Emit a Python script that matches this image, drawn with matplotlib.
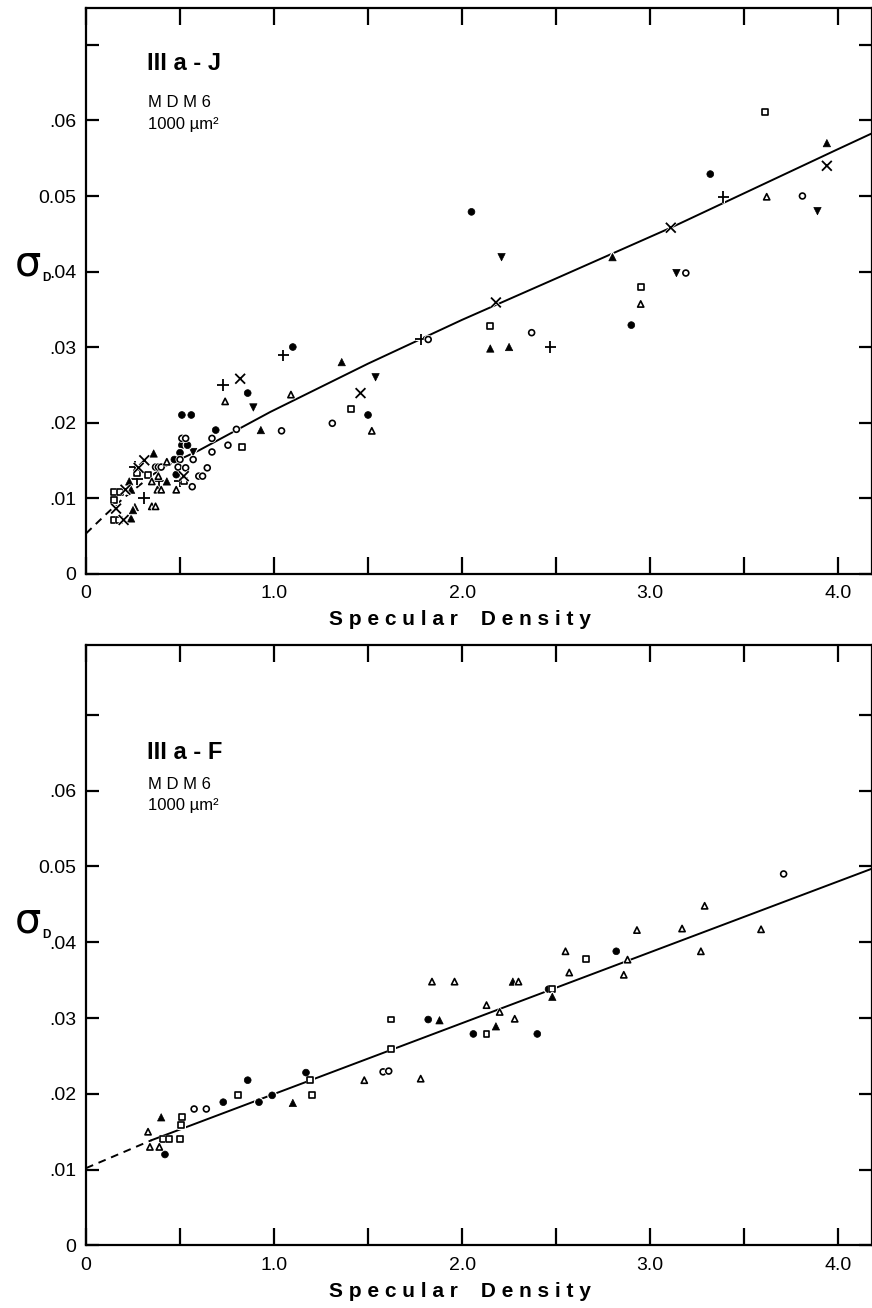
import matplotlib
matplotlib.use("Agg")
import matplotlib.pyplot as plt
import matplotlib.patheffects as pe

plt.rcParams["font.family"] = ["Liberation Sans", "DejaVu Sans"]

# ---- IIIa-J (top panel) ----
j_fc_x = [3.32, 2.90, 2.05, 1.10, 1.50, 0.86, 0.51, 0.56, 0.69, 0.51, 0.54, 0.50, 0.47, 0.48]
j_fc_y = [0.0529, 0.0329, 0.0479, 0.0300, 0.0210, 0.0239, 0.0210, 0.0210, 0.0190, 0.0170, 0.0170, 0.0160, 0.0151, 0.0131]
j_oc_x = [3.81, 3.19, 2.37, 1.82, 1.31, 1.04, 0.80, 0.67, 0.51, 0.53, 0.755, 0.67, 0.50, 0.57, 0.37, 0.385,
          0.40, 0.49, 0.53, 0.645, 0.60, 0.62, 0.565]
j_oc_y = [0.0500, 0.0398, 0.0319, 0.0310, 0.0199, 0.0189, 0.0191, 0.0179, 0.0179, 0.0179, 0.0170, 0.0161, 0.0151,
          0.0151, 0.0141, 0.0141, 0.0141, 0.0141, 0.0140, 0.0140, 0.0129, 0.0129, 0.0115]
j_sq_x = [3.61, 2.95, 2.15, 1.41, 0.83, 0.27, 0.33, 0.52, 0.15, 0.18, 0.15, 0.15, 0.175]
j_sq_y = [0.0611, 0.0380, 0.0328, 0.0218, 0.0168, 0.0133, 0.0130, 0.0122, 0.0108, 0.0108, 0.0097, 0.0071, 0.0071]
j_ft_x = [3.94, 2.80, 2.15, 2.25, 1.36, 0.93, 0.36, 0.23, 0.43, 0.24, 0.26, 0.24, 0.25]
j_ft_y = [0.0570, 0.0419, 0.0298, 0.0300, 0.0280, 0.0190, 0.0159, 0.0122, 0.0122, 0.0111, 0.0088, 0.0073, 0.0084]
j_ot_x = [3.62, 2.95, 1.09, 1.52, 0.74, 0.43, 0.385, 0.35, 0.38, 0.40, 0.48, 0.35, 0.37]
j_ot_y = [0.0499, 0.0357, 0.0237, 0.0189, 0.0228, 0.0148, 0.0129, 0.0122, 0.0111, 0.0111, 0.0111, 0.0089, 0.0089]
j_dt_x = [3.89, 3.14, 2.21, 1.54, 0.89, 0.57]
j_dt_y = [0.0480, 0.0398, 0.0419, 0.0260, 0.0220, 0.0161]
j_pl_x = [3.39, 2.47, 1.78, 1.05, 0.73, 0.26, 0.39, 0.50, 0.31, 0.27]
j_pl_y = [0.0499, 0.0300, 0.0310, 0.0289, 0.0250, 0.0141, 0.0122, 0.0122, 0.0100, 0.0125]
j_x_x = [3.94, 3.11, 2.18, 1.46, 0.82, 0.52, 0.31, 0.21, 0.16, 0.20, 0.28]
j_x_y = [0.0540, 0.0458, 0.0359, 0.0239, 0.0258, 0.0129, 0.0150, 0.0111, 0.0086, 0.0071, 0.0140]

j_dash_x = [0.0, 0.1, 0.2, 0.35]
j_dash_y = [0.0053, 0.0077, 0.0100, 0.0130]
j_fit_x = [0.35, 0.42, 0.60, 0.98, 1.50, 2.00, 2.52, 3.11, 3.99, 4.18]
j_fit_y = [0.0130, 0.0142, 0.0163, 0.0214, 0.0278, 0.0336, 0.0393, 0.0458, 0.0561, 0.0583]

# ---- IIIa-F (bottom panel) ----
f_fc_x = [0.86, 0.73, 0.92, 0.99, 1.17, 1.82, 2.06, 2.40, 2.46, 2.82, 0.42]
f_fc_y = [0.0218, 0.0189, 0.0189, 0.0198, 0.0228, 0.0298, 0.0279, 0.0279, 0.0338, 0.0388, 0.0120]
f_oc_x = [0.575, 0.64, 1.58, 1.61, 3.71]
f_oc_y = [0.0180, 0.0180, 0.0229, 0.0230, 0.0490]
f_sq_x = [0.81, 0.51, 0.505, 1.62, 1.62, 1.19, 1.20, 2.13, 2.48, 2.66, 0.41, 0.44, 0.50]
f_sq_y = [0.0199, 0.0169, 0.0159, 0.0298, 0.0259, 0.0218, 0.0199, 0.0279, 0.0338, 0.0378, 0.0140, 0.0140, 0.0140]
f_ft_x = [0.40, 1.10, 1.88, 2.27, 2.18, 2.48]
f_ft_y = [0.0169, 0.0188, 0.0297, 0.0348, 0.0289, 0.0328]
f_ot_x = [1.48, 1.78, 1.84, 1.96, 2.30, 2.13, 2.20, 2.28, 2.55, 2.57, 2.88, 2.86, 2.93, 3.17, 3.29, 3.27,
          3.59, 0.33, 0.34, 0.39]
f_ot_y = [0.0218, 0.0220, 0.0348, 0.0348, 0.0348, 0.0317, 0.0308, 0.0299, 0.0388, 0.0360, 0.0377, 0.0357,
          0.0416, 0.0418, 0.0448, 0.0388, 0.0417, 0.0150, 0.0130, 0.0130]

f_dash_x = [0.0, 0.35]
f_dash_y = [0.0102, 0.0139]
f_fit_x = [0.35, 4.18]
f_fit_y = [0.0139, 0.0497]

x_ticks = [0, 0.5, 1.0, 1.5, 2.0, 2.5, 3.0, 3.5, 4.0]
x_ticklabels = ["0", "", "1.0", "", "2.0", "", "3.0", "", "4.0"]
y_ticks = [0, 0.01, 0.02, 0.03, 0.04, 0.05, 0.06, 0.07]
y_ticklabels = ["0", ".01", ".02", ".03", ".04", "0.05", ".06", ""]

fig = plt.figure(figsize=(8.72, 13.08), dpi=100)
fig.patch.set_facecolor("white")
ax_top = fig.add_axes([0.0986, 0.5615, 0.9014, 0.4324])
ax_bot = fig.add_axes([0.0986, 0.0478, 0.9014, 0.4591])

# white rim round each mark, so the fit line looks broken where it passes a point
halo = [pe.withStroke(linewidth=2.2, foreground="white")]


def style_axes(ax, ytop):
    ax.set_xlim(0, 4.18)
    ax.set_ylim(0, ytop)
    ax.set_xticks(x_ticks)
    ax.set_xticklabels(x_ticklabels)
    ax.set_yticks(y_ticks)
    ax.set_yticklabels(y_ticklabels)
    ax.tick_params(direction="in", top=True, right=True, width=1.6, labelsize=14, colors="black")
    ax.tick_params(axis="x", length=12, pad=8)
    ax.tick_params(axis="y", length=9.5, pad=7)
    for sp in ax.spines.values():
        sp.set_linewidth(1.6)


def pts(ax, x, y, marker, filled, s):
    if filled:
        sc = ax.scatter(x, y, marker=marker, s=s, c="black", linewidths=0.5, zorder=3)
    elif marker in ("+", "x"):
        sc = ax.scatter(x, y, marker=marker, s=s, c="black", linewidths=1.3, zorder=3)
    else:
        sc = ax.scatter(x, y, marker=marker, s=s, facecolors="white", edgecolors="black", linewidths=1.2, zorder=3)
    sc.set_path_effects(halo)


def side_text(ax, name, y_name, y_mdm, y_area, y_sigma):
    ax.text(0.325, y_name, name, fontsize=17, fontweight="bold", va="center")
    ax.text(0.33, y_mdm, "M D M 6", fontsize=12, va="center")
    ax.text(0.33, y_area, "1000 µm²", fontsize=12, va="center")
    tr = ax.get_yaxis_transform()
    ax.text(-0.074, y_sigma, "σ", fontsize=30, transform=tr, ha="center", va="center",
            family="DejaVu Sans")
    ax.text(-0.050, y_sigma - 0.0018, "D", fontsize=8.5, fontweight="bold", transform=tr,
            ha="center", va="center")


# top panel
style_axes(ax_top, 0.0749)
ax_top.plot(j_dash_x, j_dash_y, color="black", lw=1.4, dashes=(4, 3))
ax_top.plot(j_fit_x, j_fit_y, color="black", lw=1.4)
pts(ax_top, j_dt_x, j_dt_y, "v", True, 28)
pts(ax_top, j_pl_x, j_pl_y, "+", False, 70)
pts(ax_top, j_fc_x, j_fc_y, "o", True, 24)
pts(ax_top, j_oc_x, j_oc_y, "o", False, 18)
pts(ax_top, j_sq_x, j_sq_y, "s", False, 18)
pts(ax_top, j_ft_x, j_ft_y, "^", True, 28)
pts(ax_top, j_ot_x, j_ot_y, "^", False, 20)
pts(ax_top, j_x_x, j_x_y, "x", False, 50)
side_text(ax_top, "III a - J", 0.0675, 0.0624, 0.0595, 0.0410)

# bottom panel
style_axes(ax_bot, 0.0792)
ax_bot.plot(f_dash_x, f_dash_y, color="black", lw=1.4, dashes=(4, 3))
ax_bot.plot(f_fit_x, f_fit_y, color="black", lw=1.4)
pts(ax_bot, f_fc_x, f_fc_y, "o", True, 24)
pts(ax_bot, f_oc_x, f_oc_y, "o", False, 18)
pts(ax_bot, f_sq_x, f_sq_y, "s", False, 18)
pts(ax_bot, f_ft_x, f_ft_y, "^", True, 28)
pts(ax_bot, f_ot_x, f_ot_y, "^", False, 20)
side_text(ax_bot, "III a - F", 0.0650, 0.0608, 0.0580, 0.0428)

xlabel = "S p e c u l a r    D e n s i t y"
fig.text(0.528, 0.526, xlabel, fontsize=15, fontweight="bold", ha="center", va="center")
fig.text(0.528, 0.0126, xlabel, fontsize=15, fontweight="bold", ha="center", va="center")

fig.savefig("out.png", dpi=100)
